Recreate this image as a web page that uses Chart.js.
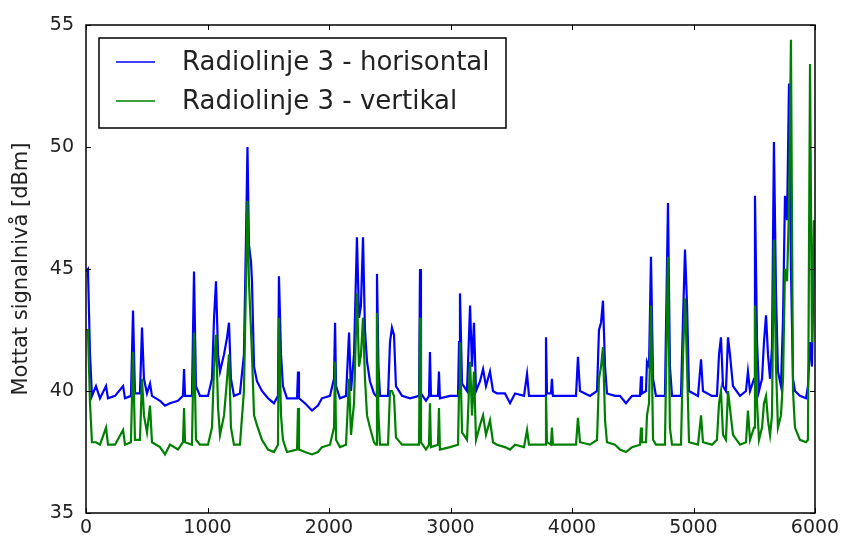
<!DOCTYPE html>
<html>
<head>
<meta charset="utf-8">
<script src="https://cdn.jsdelivr.net/npm/chart.js@4.4.1/dist/chart.umd.min.js"></script>
<style>
  html, body { margin: 0; padding: 0; background: #fff; }
  #wrap { width: 845px; height: 540px; }
</style>
</head>
<body>
<div id="wrap"><canvas id="signal"></canvas></div>
<script>
// maaletidspunkt (x) og mottatt nivaa for begge polarisasjoner
var sampleX = [0, 16, 33, 49, 82, 115, 165, 181, 239, 305, 321, 370, 387, 403, 444, 461, 477, 502, 527, 543,
  609, 650, 691, 757, 798, 807, 815, 872, 889, 905, 938, 1004, 1037, 1054, 1070, 1087, 1103, 1136, 1161, 1177,
  1193, 1218, 1267, 1300, 1317, 1329, 1341, 1358, 1366, 1383, 1407, 1448, 1498, 1547, 1580, 1588, 1605, 1621, 1654, 1737,
  1745, 1753, 1802, 1860, 1909, 1942, 2008, 2041, 2050, 2058, 2090, 2140, 2165, 2181, 2206, 2230, 2247, 2263, 2280, 2296,
  2313, 2337, 2370, 2387, 2395, 2407, 2420, 2486, 2502, 2518, 2535, 2551, 2601, 2667, 2741, 2749, 2757, 2798, 2823, 2831,
  2839, 2897, 2905, 2913, 2996, 3062, 3070, 3078, 3095, 3136, 3161, 3177, 3193, 3210, 3243, 3268, 3292, 3325, 3350, 3382,
  3448, 3490, 3531, 3605, 3630, 3646, 3737, 3778, 3786, 3794, 3827, 3835, 3843, 3942, 4033, 4049, 4066, 4148, 4206, 4222,
  4239, 4255, 4272, 4288, 4354, 4395, 4444, 4494, 4560, 4568, 4576, 4609, 4617, 4634, 4650, 4667, 4691, 4765, 4790, 4806,
  4823, 4897, 4914, 4930, 4947, 4963, 5037, 5062, 5078, 5152, 5193, 5210, 5226, 5243, 5267, 5284, 5300, 5325, 5383, 5432,
  5448, 5465, 5498, 5506, 5523, 5539, 5564, 5580, 5597, 5613, 5630, 5646, 5662, 5679, 5695, 5720, 5737, 5753, 5770, 5786,
  5802, 5819, 5835, 5876, 5926, 5942, 5959, 5975, 5991];

var horisontal = [44.9, 45.0, 41.5, 39.8, 40.2, 39.7, 40.2, 39.7, 39.8, 40.2, 39.7, 39.8, 43.3, 39.9, 39.9, 42.6, 40.5, 39.9, 40.3, 39.8,
  39.6, 39.4, 39.5, 39.6, 39.8, 40.9, 39.8, 39.8, 44.9, 40.2, 39.8, 39.8, 40.5, 43.0, 44.5, 41.5, 40.8, 41.5, 42.2, 42.8,
  40.5, 39.8, 39.9, 41.5, 46.3, 50.0, 46.0, 45.3, 44.5, 41.0, 40.4, 40.0, 39.7, 39.5, 39.8, 44.7, 41.5, 40.2, 39.7, 39.7,
  40.8, 39.7, 39.5, 39.2, 39.4, 39.7, 39.8, 40.5, 42.8, 40.2, 39.7, 39.8, 42.4, 40.0, 41.5, 46.3, 43.0, 43.5, 46.3, 42.5,
  41.2, 40.4, 39.9, 39.8, 44.8, 41.0, 39.8, 39.8, 42.0, 42.6, 42.3, 40.2, 39.8, 39.7, 39.8, 45.0, 39.9, 39.6, 39.8, 41.6,
  39.8, 39.8, 40.8, 39.7, 39.8, 39.8, 42.0, 44.0, 40.3, 40.0, 43.5, 41.0, 42.8, 40.0, 40.4, 40.9, 40.2, 40.8, 40.0, 39.9,
  39.9, 39.5, 39.9, 39.8, 40.7, 39.8, 39.8, 39.8, 42.2, 39.9, 39.9, 40.5, 39.8, 39.8, 39.8, 41.4, 40.0, 39.8, 40.0, 42.5,
  42.8, 43.7, 41.0, 39.9, 39.8, 39.8, 39.5, 39.8, 39.8, 40.6, 39.9, 40.0, 41.2, 41.0, 45.5, 40.5, 39.8, 39.8, 47.7, 41.0,
  39.8, 39.8, 43.0, 45.8, 43.5, 40.0, 39.8, 41.3, 40.0, 39.8, 39.8, 41.5, 42.2, 40.2, 40.0, 42.2, 41.5, 40.2, 39.8, 40.0,
  40.8, 40.0, 40.5, 48.0, 42.0, 40.0, 40.5, 42.0, 43.1, 41.5, 40.5, 41.8, 50.2, 44.0, 40.8, 40.2, 43.0, 48.0, 47.0, 52.6,
  45.0, 40.5, 40.0, 39.8, 39.7, 40.2, 42.0, 41.0, 46.0];

var vertikal = [42.5, 42.5, 39.5, 37.9, 37.9, 37.8, 38.5, 37.8, 37.8, 38.4, 37.8, 37.9, 41.6, 38.0, 38.0, 40.5, 39.0, 38.3, 39.4, 37.9,
  37.7, 37.4, 37.8, 37.6, 37.9, 39.3, 37.9, 37.8, 42.4, 38.0, 37.8, 37.8, 38.5, 41.0, 42.3, 39.3, 38.2, 39.0, 40.5, 41.5,
  38.5, 37.8, 37.8, 40.0, 44.5, 47.8, 44.5, 42.5, 41.5, 39.0, 38.6, 38.0, 37.6, 37.5, 37.8, 43.0, 39.0, 38.0, 37.5, 37.6,
  39.3, 37.6, 37.5, 37.4, 37.5, 37.7, 37.8, 38.5, 41.2, 38.0, 37.7, 37.8, 40.5, 38.2, 39.5, 44.0, 41.0, 41.5, 43.0, 40.5,
  39.0, 38.5, 37.9, 37.8, 43.2, 39.0, 37.8, 37.8, 40.0, 40.0, 39.8, 38.1, 37.8, 37.8, 37.8, 43.0, 37.9, 37.6, 37.8, 39.5,
  37.7, 37.8, 39.3, 37.6, 37.7, 37.8, 40.0, 42.0, 38.3, 38.0, 41.2, 39.0, 40.8, 38.0, 38.6, 39.0, 38.2, 38.8, 37.9, 37.8,
  37.7, 37.6, 37.8, 37.7, 38.4, 37.8, 37.8, 37.8, 39.8, 37.9, 37.8, 38.5, 37.8, 37.8, 37.8, 38.9, 37.9, 37.8, 38.0, 40.5,
  41.0, 41.8, 38.8, 37.9, 37.8, 37.6, 37.5, 37.7, 37.8, 38.5, 37.9, 37.9, 39.0, 39.5, 43.5, 38.0, 37.8, 37.8, 45.5, 38.5,
  37.8, 37.8, 41.5, 43.8, 41.0, 37.9, 37.8, 39.0, 37.9, 37.8, 38.0, 39.5, 40.0, 38.2, 38.0, 40.0, 39.3, 38.2, 37.8, 37.9,
  39.2, 38.0, 38.5, 43.5, 39.5, 38.0, 38.5, 39.5, 39.8, 38.8, 38.2, 39.0, 46.2, 41.0, 38.5, 39.0, 40.5, 45.0, 44.5, 47.5,
  54.4, 40.0, 38.5, 38.0, 37.9, 38.0, 53.4, 42.0, 47.0];

var seriesNames = ['Radiolinje 3 - horisontal', 'Radiolinje 3 - vertikal'];
var seriesColors = ['#0000ff', '#008000'];

function toPoints(ys) {
  var pts = [];
  for (var i = 0; i < sampleX.length; i++) {
    pts.push({ x: sampleX[i], y: ys[i] });
  }
  return pts;
}

var fontFam = "'DejaVu Sans', sans-serif";

// ramme rundt plottet + tick-merker paa innsiden (matplotlib-stil)
var framePlugin = {
  id: 'frame',
  afterDatasetsDraw: function(chart) {
    var ctx = chart.ctx;
    var a = chart.chartArea;
    var xs = chart.scales.x;
    var ys = chart.scales.y;
    ctx.save();
    ctx.strokeStyle = '#000';
    ctx.lineWidth = 1;
    ctx.beginPath();
    xs.ticks.forEach(function(t) {
      var px = Math.round(xs.getPixelForValue(t.value)) + 0.5;
      ctx.moveTo(px, a.bottom); ctx.lineTo(px, a.bottom - 5);
      ctx.moveTo(px, a.top); ctx.lineTo(px, a.top + 5);
    });
    ys.ticks.forEach(function(t) {
      var py = Math.round(ys.getPixelForValue(t.value)) + 0.5;
      ctx.moveTo(a.left, py); ctx.lineTo(a.left + 5, py);
      ctx.moveTo(a.right, py); ctx.lineTo(a.right - 5, py);
    });
    ctx.stroke();
    ctx.lineWidth = 1.5;
    ctx.strokeRect(a.left, a.top, a.right - a.left, a.bottom - a.top);
    ctx.restore();
  }
};

// legende med boks oppe til venstre
var legendBox = {
  id: 'legendBox',
  afterDraw: function(chart) {
    var ctx = chart.ctx;
    var a = chart.chartArea;
    var bx = a.left + 13, by = a.top + 13, bw = 407, bh = 90;
    ctx.save();
    ctx.fillStyle = '#fff';
    ctx.fillRect(bx, by, bw, bh);
    ctx.strokeStyle = '#000';
    ctx.lineWidth = 1.5;
    ctx.strokeRect(bx, by, bw, bh);
    ctx.font = '26px ' + fontFam;
    ctx.textBaseline = 'middle';
    chart.data.datasets.forEach(function(ds, i) {
      var rowY = by + 24 + i * 39;
      ctx.strokeStyle = ds.borderColor;
      ctx.lineWidth = 1.5;
      ctx.beginPath();
      ctx.moveTo(bx + 17, rowY); ctx.lineTo(bx + 56, rowY);
      ctx.stroke();
      ctx.fillStyle = '#222';
      ctx.fillText(ds.label, bx + 83, rowY + 1);
    });
    ctx.restore();
  }
};

var ctx = document.getElementById('signal');
var myChart = new Chart(ctx, {
  type: 'line',
  plugins: [framePlugin, legendBox],
  data: {
    datasets: [
      {
        label: seriesNames[0],
        data: toPoints(horisontal),
        borderColor: seriesColors[0],
        borderWidth: 2.2,
        pointRadius: 0,
        tension: 0,
        order: 1
      },
      {
        label: seriesNames[1],
        data: toPoints(vertikal),
        borderColor: seriesColors[1],
        borderWidth: 2.2,
        pointRadius: 0,
        tension: 0,
        order: 0
      }
    ]
  },
  options: {
    responsive: true,
    maintainAspectRatio: false,
    animation: false,
    layout: { padding: { left: 0, right: 30, top: 25, bottom: 0 } },
    plugins: {
      legend: { display: false },
      tooltip: { enabled: false }
    },
    scales: {
      x: {
        type: 'linear',
        min: 0,
        max: 6000,
        ticks: {
          stepSize: 1000, padding: 4, color: '#222', maxRotation: 0,
          font: { family: fontFam, size: 19 },
          callback: function(v) { return String(v); }
        },
        grid: { drawOnChartArea: false, drawTicks: false },
        border: { display: false },
        afterFit: function(scale) { scale.height = 27; }
      },
      y: {
        min: 35,
        max: 55,
        ticks: { stepSize: 5, padding: 12, color: '#222', font: { family: fontFam, size: 19 } },
        grid: { drawOnChartArea: false, drawTicks: false },
        border: { display: false },
        title: {
          display: true,
          text: 'Mottat signalnivå [dBm]',
          color: '#222',
          font: { family: fontFam, size: 21 },
          padding: { top: 9, bottom: 0 }
        },
        afterFit: function(scale) { scale.width = 86; }
      }
    }
  }
});
</script>
</body>
</html>
